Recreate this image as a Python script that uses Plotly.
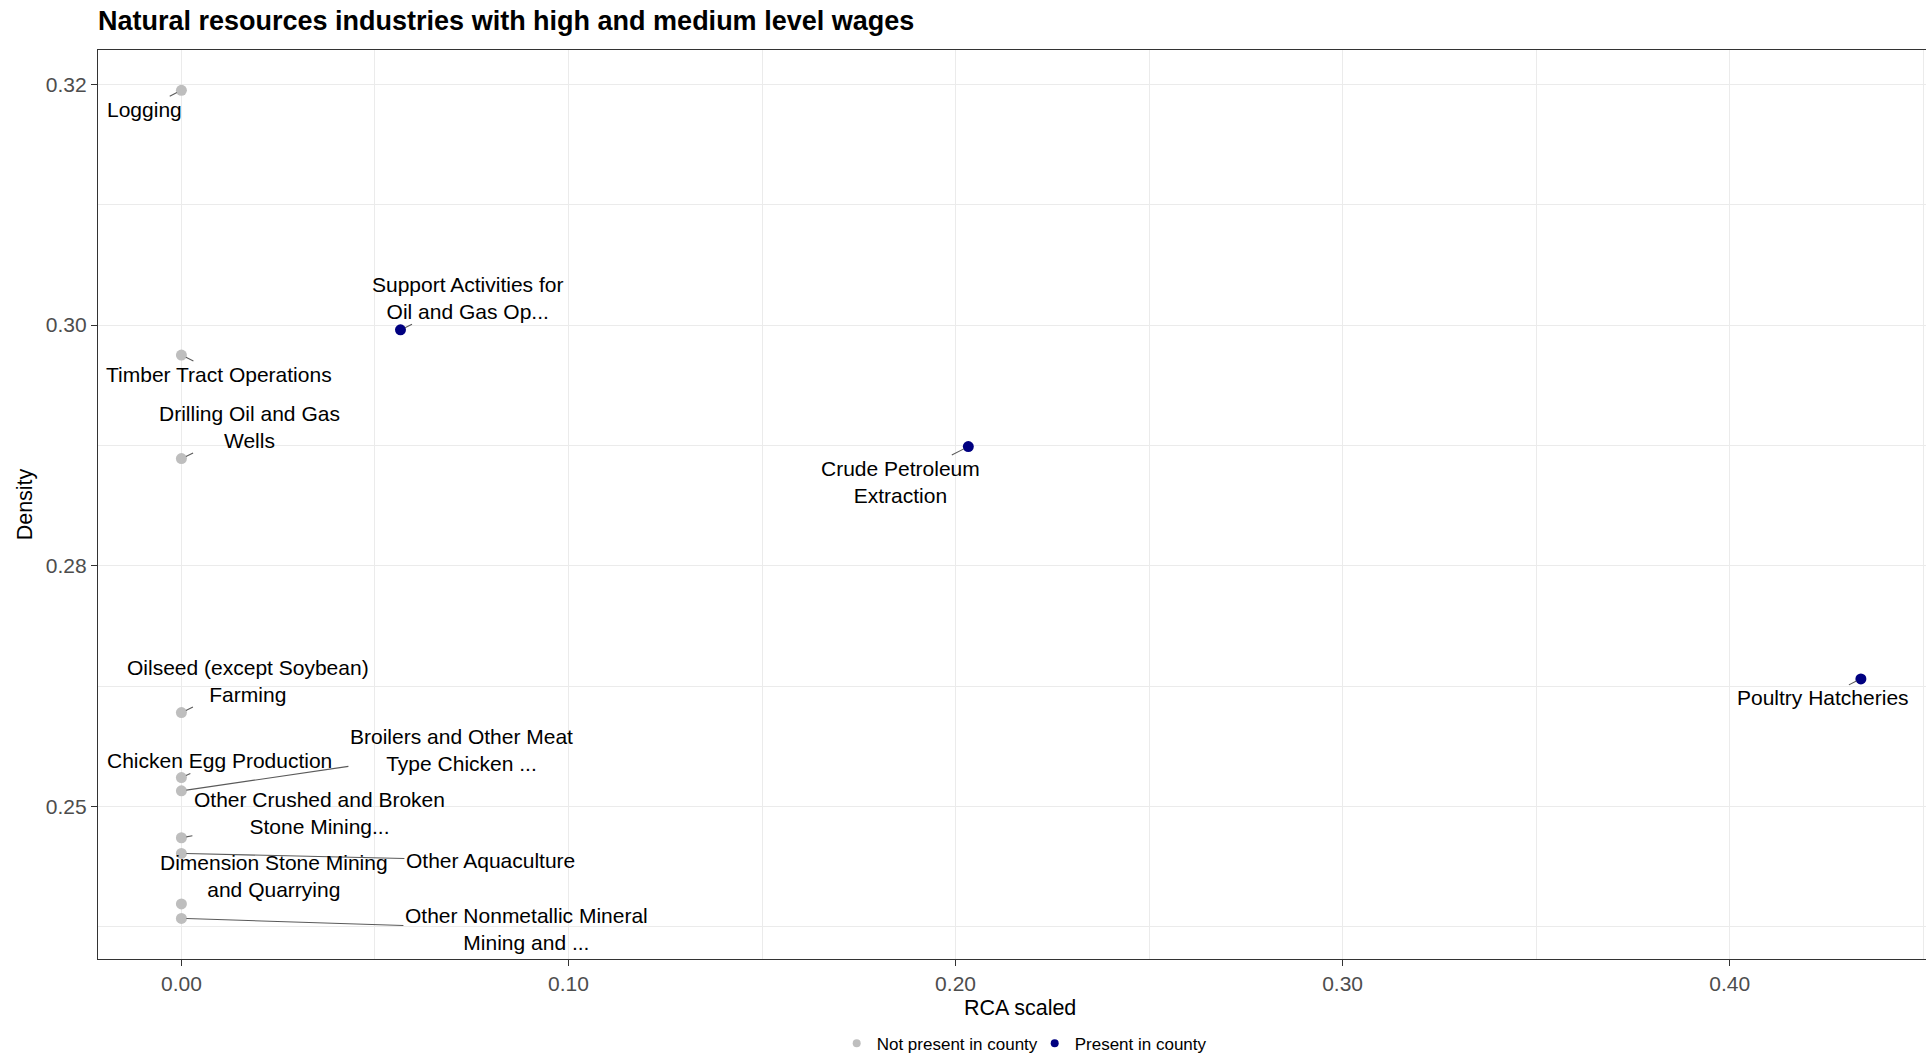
import plotly.graph_objects as go

# ---------------- data ----------------
industries = [
    "Logging",
    "Support Activities for<br>Oil and Gas Op...",
    "Timber Tract Operations",
    "Drilling Oil and Gas<br>Wells",
    "Crude Petroleum<br>Extraction",
    "Poultry Hatcheries",
    "Oilseed (except Soybean)<br>Farming",
    "Chicken Egg Production",
    "Broilers and Other Meat<br>Type Chicken ...",
    "Other Crushed and Broken<br>Stone Mining...",
    "Other Aquaculture",
    "Dimension Stone Mining<br>and Quarrying",
    "Other Nonmetallic Mineral<br>Mining and ...",
]
rca_scaled = [0.0, 0.0566, 0.0, 0.0, 0.2033, 0.4339, 0.0, 0.0, 0.0, 0.0, 0.0, 0.0, 0.0]
density = [0.3195, 0.2996, 0.2975, 0.2889, 0.2899, 0.2706, 0.2678, 0.2624,
           0.2613, 0.2574, 0.2561, 0.2519, 0.2507]
present = [False, True, False, False, True, True, False, False,
           False, False, False, False, False]

x_ticks = [0.0, 0.1, 0.2, 0.3, 0.4]
x_tick_labels = ["0.00", "0.10", "0.20", "0.30", "0.40"]
y_ticks = [0.26, 0.28, 0.30, 0.32]
y_tick_labels = ["0.25", "0.28", "0.30", "0.32"]

# ---------------- style / layout (label placement, px offsets) ----------------
label_offsets = [(-37, 19), (67, -32), (38, 19), (68, -32), (-68, 35), (-38, 19),
                 (67, -32), (38, -17), (280, -41), (138, -25), (309, 7), (93, -28),
                 (345, 11)]
show_segment = [True, True, True, True, True, True, True, True, True, True, True,
                False, True]

GREY = "#BEBEBE"
NAVY = "#000080"
FONT = "Liberation Sans, Arial, Helvetica, sans-serif"

fig = go.Figure()

groups = [("Not present in county", False, GREY), ("Present in county", True, NAVY)]
for name, flag, col in groups:
    xs = [x for x, p in zip(rca_scaled, present) if p == flag]
    ys = [y for y, p in zip(density, present) if p == flag]
    fig.add_trace(go.Scatter(
        x=xs, y=ys, mode="markers", name=name, legendgroup=name,
        marker=dict(color=col, size=11, line=dict(width=0)),
        showlegend=False, hoverinfo="skip", cliponaxis=False,
    ))
    # legend entry with smaller key symbol
    fig.add_trace(go.Scatter(
        x=[None], y=[None], mode="markers", name=name, legendgroup=name,
        marker=dict(color=col, size=8), showlegend=True,
    ))

for name, x, y, (ax, ay), seg in zip(industries, rca_scaled, density, label_offsets, show_segment):
    fig.add_annotation(
        x=x, y=y, xref="x", yref="y", text=name, showarrow=True,
        ax=ax, ay=ay, arrowhead=0, arrowwidth=1.1, standoff=5,
        arrowcolor="#5A5A5A" if seg else "rgba(0,0,0,0)",
        font=dict(family=FONT, size=21, color="black"),
    )

# x-axis title (centred on the full, partly cropped, panel as in the reference)
fig.add_annotation(
    text="RCA scaled", xref="paper", yref="paper", x=0.5046, y=-0.0539,
    xanchor="center", yanchor="middle", showarrow=False,
    font=dict(family=FONT, size=21.5, color="black"),
)

fig.update_layout(
    width=1926, height=1053,
    margin=dict(l=98, r=0, t=50, b=94, autoexpand=False),
    paper_bgcolor="white", plot_bgcolor="white",
    font=dict(family=FONT, color="black"),
    title=dict(
        text="Natural resources industries with high and medium level wages",
        font=dict(family=FONT, size=27, color="black", weight="bold"),
        x=0, xref="paper", xanchor="left",
        y=1 - 21 / 1053, yref="container", yanchor="middle",
    ),
    showlegend=True,
    legend=dict(
        orientation="h", x=0.4041, xanchor="left", y=-0.0931, yanchor="middle",
        font=dict(family=FONT, size=17, color="black"),
        bgcolor="rgba(0,0,0,0)", itemwidth=30, tracegroupgap=0,
        entrywidth=153, entrywidthmode="pixels",
    ),
)

fig.update_xaxes(
    range=[-0.02155, 0.45072],
    tickvals=x_ticks, ticktext=x_tick_labels,
    tickfont=dict(family=FONT, size=21, color="#4D4D4D"),
    ticks="outside", ticklen=6, tickwidth=1.3, tickcolor="#333333",
    showline=True, linecolor="#333333", linewidth=1.3, mirror=True,
    showgrid=True, gridcolor="#EBEBEB", gridwidth=1.3, zeroline=False,
    minor=dict(tickvals=[0.05, 0.15, 0.25, 0.35, 0.45], showgrid=True,
               gridcolor="#EBEBEB", gridwidth=0.7, ticks=""),
    automargin=False,
)
fig.update_yaxes(
    range=[0.247327, 0.32285],
    tickvals=y_ticks, ticktext=y_tick_labels,
    tickfont=dict(family=FONT, size=21, color="#4D4D4D"),
    ticks="outside", ticklen=6, tickwidth=1.3, tickcolor="#333333",
    showline=True, linecolor="#333333", linewidth=1.3, mirror=False,
    showgrid=True, gridcolor="#EBEBEB", gridwidth=1.3, zeroline=False,
    minor=dict(tickvals=[0.25, 0.27, 0.29, 0.31], showgrid=True,
               gridcolor="#EBEBEB", gridwidth=0.7, ticks=""),
    title=dict(text="Density", font=dict(family=FONT, size=21.5, color="black"), standoff=7),
    automargin=False,
)

fig.write_html(
    "out.html",
    config={"displayModeBar": False},
    post_script="document.body.style.margin='0px';document.body.style.overflow='hidden';",
)
